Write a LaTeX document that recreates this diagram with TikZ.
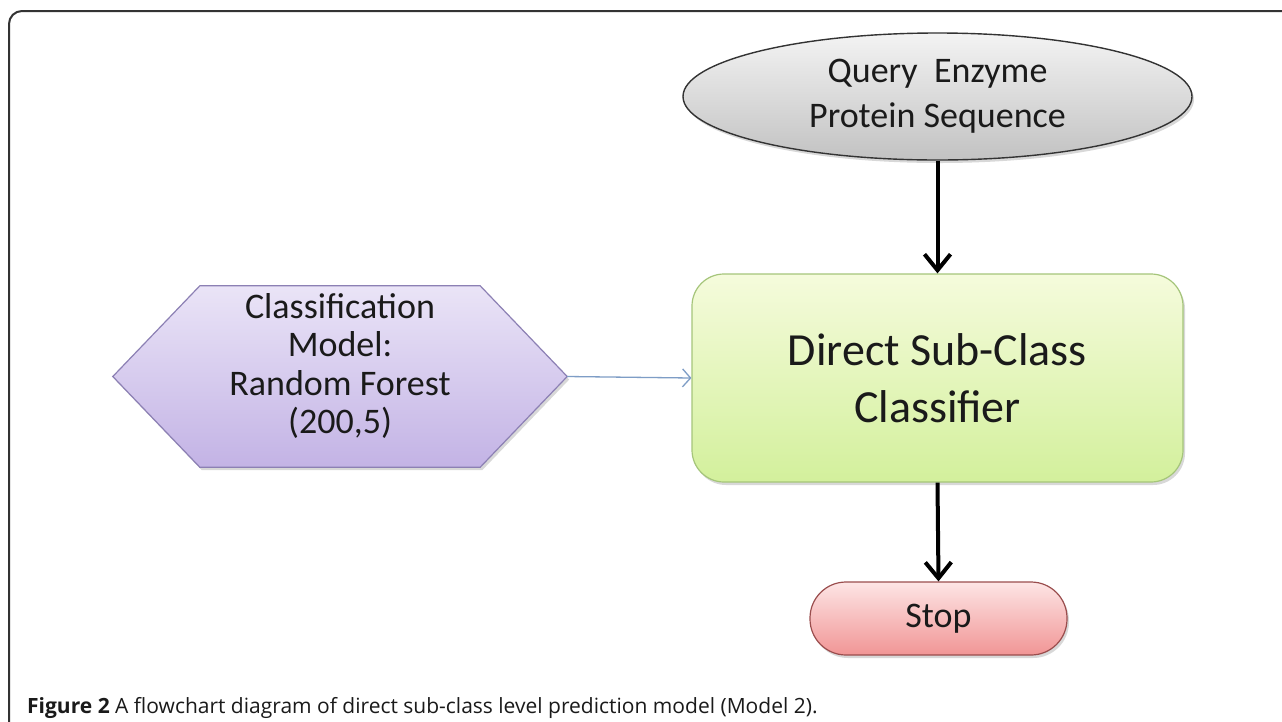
\documentclass[tikz,border=0pt]{standalone}
\usepackage{fontspec}
\setmainfont{Carlito}
\newfontfamily\capfont{Open Sans}
\usetikzlibrary{shapes.geometric,arrows.meta,shadows}
\definecolor{framecol}{HTML}{333333}
\definecolor{qtop}{HTML}{F3F3F3}
\definecolor{qbot}{HTML}{C2C2C2}
\definecolor{gtop}{HTML}{F5FBDC}
\definecolor{gbot}{HTML}{D3F09C}
\definecolor{gline}{HTML}{A5C57A}
\definecolor{htop}{HTML}{EAE4F7}
\definecolor{hbot}{HTML}{C3B3E5}
\definecolor{hline}{HTML}{8C80B4}
\definecolor{stop1}{HTML}{FDE5E5}
\definecolor{stop2}{HTML}{F19595}
\definecolor{sline}{HTML}{9A4D4D}
\definecolor{bluearr}{HTML}{7E9DC6}
\definecolor{txt}{HTML}{1A1A1A}
\tikzset{
  shade/.style={drop shadow={shadow xshift=2pt,shadow yshift=-3pt,opacity=0.25,fill=black!60}},
  query/.style={ellipse,draw=framecol,line width=1.4pt,top color=qtop,bottom color=qbot,
    minimum width=509pt,minimum height=127pt,inner sep=0pt,align=center,text=txt,
    font=\fontsize{36}{45}\selectfont,shade},
  procbox/.style={rectangle,rounded corners=32pt,draw=gline,line width=1.2pt,top color=gtop,bottom color=gbot,
    minimum width=491pt,minimum height=208pt,inner sep=0pt,align=center,text=txt,
    font=\fontsize{46}{57}\selectfont,shade},
  stopbox/.style={rectangle,rounded corners=36pt,draw=sline,line width=1.2pt,top color=stop1,bottom color=stop2,
    minimum width=257pt,minimum height=73pt,inner sep=0pt,text=txt,
    font=\fontsize{36}{40}\selectfont,shade},
  hextext/.style={rectangle,minimum width=454pt,minimum height=181pt,inner sep=0pt,align=center,text=txt,
    font=\fontsize{36}{38.5}\selectfont},
  hexshape/.style={draw=hline,line width=1.2pt,top color=htop,bottom color=hbot,shade},
  bigarrow/.style={line width=4pt,-{Straight Barb[length=16pt,width=26pt,line width=4pt]}},
  bluearrow/.style={draw=bluearr,line width=1.3pt,-{Straight Barb[length=8pt,width=18pt,line width=1.3pt]}},
  frameline/.style={draw=framecol,line width=2pt,rounded corners=13pt}
}
\begin{document}
\begin{tikzpicture}[x=1pt,y=-1pt]
\useasboundingbox (0,0) rectangle (1282,721);
\fill[white] (0,0) rectangle (1282,721);
\draw[frameline] (1284,11) -- (9,11) -- (9,723);

\node[query] (q) at (937.5,96.5) {Query\ \ Enzyme\\Protein Sequence};
\node[procbox] (c) at (937.5,378) {Direct Sub-Class\\Classifier};
\node[stopbox] (s) at (938.5,618.5) {Stop};

\node[hextext] (h) at (340,376.5) {};
\path[hexshape] (h.west) -- ([xshift=87pt]h.north west) -- ([xshift=-87pt]h.north east)
  -- (h.east) -- ([xshift=-87pt]h.south east) -- ([xshift=87pt]h.south west) -- cycle;
\node[hextext] (hl) at (340,366) {Classification\\Model:\\Random Forest\\(200,5)};

\draw[bigarrow] (q.south) -- (c.north);
\draw[bigarrow] (c.south) -- (s.north);
\draw[bluearrow] (h.east) -- (c.west);

\node[anchor=base west,font=\capfont\fontsize{21}{24}\selectfont,text=txt,inner sep=0pt] (cap) at (27,713)
  {\textbf{Figure 2} A flowchart diagram of direct sub-class level prediction model (Model 2).};
\end{tikzpicture}
\end{document}
